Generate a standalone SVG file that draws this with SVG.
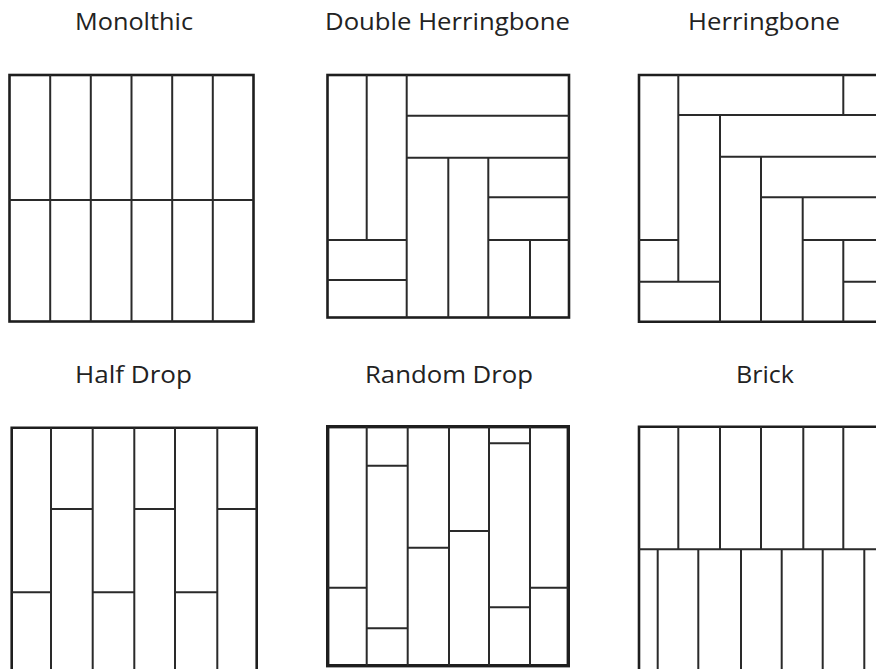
<svg xmlns="http://www.w3.org/2000/svg" width="876" height="669" viewBox="0 0 876 669">
<style>
.lbl{font-family:"Open Sans","Liberation Sans",sans-serif;font-size:23px;fill:#222;text-anchor:middle}
.b{fill:none;stroke:#1e1e1e;stroke-width:2.6}
.b3{fill:none;stroke:#1e1e1e;stroke-width:3.4}
.l{fill:none;stroke:#2a2a2a;stroke-width:2}
</style>
<rect width="876" height="669" fill="#fff"/>
<g id="monolithic">
<text class="lbl" x="134" y="29.5" textLength="118" lengthAdjust="spacingAndGlyphs">Monolthic</text>
<rect class="b" x="9.5" y="75" width="244" height="246.5"/>
<path class="l" d="M50.2 75V321.5M90.8 75V321.5M131.5 75V321.5M172.2 75V321.5M212.8 75V321.5M9.5 200H253.5"/>
</g>
<g id="double-herringbone">
<text class="lbl" x="447.5" y="29.5" textLength="245" lengthAdjust="spacingAndGlyphs">Double Herringbone</text>
<rect class="b" x="327.5" y="75" width="241.5" height="242.5"/>
<path class="l" d="M366.7 75V240M406.7 75V317.5M406.7 115.7H569M406.7 157.7H569M448.3 157.7V317.5M488.3 157.7V317.5M488.3 197.3H569M488.3 240H569M530 240V317.5M327.5 240H406.7M327.5 280H406.7"/>
</g>
<g id="herringbone">
<text class="lbl" x="764" y="29.5" textLength="152" lengthAdjust="spacingAndGlyphs">Herringbone</text>
<path class="b" d="M880 75H639V321.7H880"/>
<path class="l" d="M678.3 75V281.7M639 240H678.3M639 281.7H720M678.3 115H880M843.3 75V115M720 115V321.7M720 156.7H880M761 156.7V321.7M761 197.3H880M802.7 197.3V321.7M802.7 240H880M843.3 240V321.7M843.3 281.7H880"/>
</g>
<g id="half-drop">
<text class="lbl" x="133.5" y="382.5" textLength="117" lengthAdjust="spacingAndGlyphs">Half Drop</text>
<path class="b" d="M11.7 675V427.7H256.7V675"/>
<path class="l" d="M51 427.7V675M92.7 427.7V675M134.3 427.7V675M175 427.7V675M217.3 427.7V675M51 509H92.7M134.3 509H175M217.3 509H256.7M11.7 592.3H51M92.7 592.3H134.3M175 592.3H217.3"/>
</g>
<g id="random-drop">
<text class="lbl" x="449" y="382.5" textLength="168" lengthAdjust="spacingAndGlyphs">Random Drop</text>
<rect class="b3" x="327.7" y="426.7" width="240.6" height="239"/>
<path class="l" d="M366.7 426.7V665.7M407.7 426.7V665.7M449 426.7V665.7M489 426.7V665.7M530 426.7V665.7M327.7 587.7H366.7M366.7 465.7H407.7M366.7 628.3H407.7M407.7 547.7H449M449 531H489M489 443.3H530M489 607.3H530M530 587.7H568.3"/>
</g>
<g id="brick">
<text class="lbl" x="765" y="382.5" textLength="58" lengthAdjust="spacingAndGlyphs">Brick</text>
<path class="b" d="M639 675V426.7H880"/>
<path class="l" d="M678.3 426.7V549.3M720 426.7V549.3M761 426.7V549.3M803.3 426.7V549.3M843.3 426.7V549.3M639 549.3H880M657.7 549.3V675M698.3 549.3V675M741 549.3V675M781.7 549.3V675M822.7 549.3V675M864.3 549.3V675"/>
</g>
</svg>
